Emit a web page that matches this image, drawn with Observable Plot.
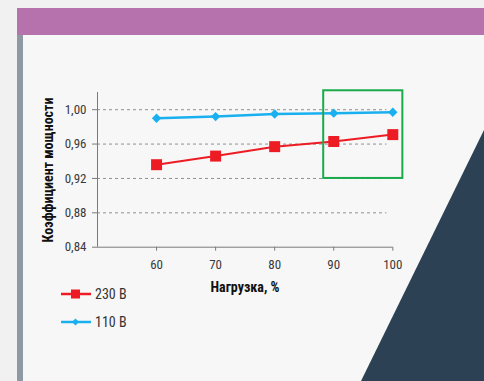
<!DOCTYPE html>
<html><head><meta charset="utf-8">
<script src="https://cdn.jsdelivr.net/npm/d3@7"></script>
<script src="https://cdn.jsdelivr.net/npm/@observablehq/plot@0.6"></script>
<style>
body{margin:0;background:#f2f1f1;}
#wrap{position:relative;width:484px;height:381px;overflow:hidden;font-family:"Liberation Sans Narrow","Roboto Condensed","DejaVu Sans Condensed",sans-serif;color:#333;}
.card{position:absolute;left:17px;top:8px;right:0;bottom:0;background:#f7f7f7;}
.band{position:absolute;left:17px;top:8px;right:0;height:27px;background:#b572ad;}
.bar{position:absolute;left:17px;top:35px;width:6px;bottom:0;background:#8e99a3;}
.tri{position:absolute;left:0;top:0;width:484px;height:381px;background:#2c4153;clip-path:polygon(484px 130px,484px 381px,361px 381px);}
#chart{position:absolute;left:0;top:0;}
#chart svg{background:transparent;overflow:visible;}
.ylab{position:absolute;left:48px;top:170px;transform:translate(-50%,-50%) rotate(-90deg);white-space:nowrap;font-weight:bold;font-size:14px;color:#111;}
.xlab{position:absolute;left:245px;top:287px;transform:translate(-50%,-50%);white-space:nowrap;font-weight:bold;font-size:14px;color:#111;}
.leg{position:absolute;left:61px;display:flex;align-items:center;font-size:14px;color:#333;}
.leg svg{margin-right:4px;}
</style></head><body>
<div id="wrap">
  <div class="card"></div><div class="band"></div><div class="bar"></div>
  <div id="chart"></div>
  <div class="tri"></div>
  <div class="ylab" id="ylab"></div>
  <div class="xlab" id="xlab"></div>
  <div id="legend"></div>
</div>
<script>
const loads = [60, 70, 80, 90, 100];
const pf230 = [0.936, 0.946, 0.957, 0.963, 0.971];
const pf110 = [0.990, 0.992, 0.995, 0.996, 0.997];
const seriesNames = ["230 В", "110 В"];
const seriesColors = ["#ed1c24", "#1ab0ef"];
const yTicks = [0.84, 0.88, 0.92, 0.96, 1.00];
const xTicks = [60, 70, 80, 90, 100];
const highlightLoad = [88.3, 101.7];
const highlightPf = [0.92, 1.022];
const yTitle = "Коэффициент мощности";
const xTitle = "Нагрузка, %";

const d230 = loads.map((x, i) => ({x, y: pf230[i]}));
const d110 = loads.map((x, i) => ({x, y: pf110[i]}));
const fmt = d => d.toFixed(2).replace(".", ",");
const axisColor = "#7a7a7a";
const font = "\"Liberation Sans Narrow\",\"Roboto Condensed\",\"DejaVu Sans Condensed\",sans-serif";

const chart = Plot.plot({
  width: 484, height: 381,
  marginLeft: 97, marginRight: 91.7, marginTop: 92, marginBottom: 134.3,
  style: {background: "transparent", fontFamily: font, fontSize: "13px", color: "#3a3a3a"},
  x: {domain: [50, 100]},
  y: {domain: [0.84, 1.02]},
  marks: [
    Plot.ruleY(yTicks.slice(1), {x1: 50, x2: 99, stroke: "#909090", strokeDasharray: "3,3", strokeWidth: 1}),
    Plot.ruleX([50], {y1: 0.84, y2: 1.02, stroke: axisColor}),
    Plot.ruleY([0.84], {x1: 50, x2: 100, stroke: axisColor}),
    Plot.axisY({ticks: yTicks, tickSize: 5, tickPadding: 6, tickFormat: fmt, label: null, stroke: axisColor}),
    Plot.axisX({ticks: xTicks, tickSize: 4, tickPadding: 9, label: null, stroke: axisColor}),
    Plot.line(d110, {x: "x", y: "y", stroke: seriesColors[1], strokeWidth: 2.5}),
    Plot.dot(d110, {x: "x", y: "y", symbol: "diamond2", r: 4.2, fill: seriesColors[1]}),
    Plot.line(d230, {x: "x", y: "y", stroke: seriesColors[0], strokeWidth: 2}),
    Plot.dot(d230, {x: "x", y: "y", symbol: "square", r: 6.2, fill: seriesColors[0]}),
    Plot.rect([0], {x1: highlightLoad[0], x2: highlightLoad[1], y1: highlightPf[0], y2: highlightPf[1], fill: "none", stroke: "#1aaa4b", strokeWidth: 2})
  ]
});
document.getElementById("chart").appendChild(chart);
document.getElementById("ylab").textContent = yTitle;
document.getElementById("xlab").textContent = xTitle;

const legend = document.getElementById("legend");
const legTops = [294, 322];
seriesNames.forEach((name, i) => {
  const row = document.createElement("div");
  row.className = "leg";
  row.style.top = (legTops[i] - 9) + "px";
  const marker = i === 0
    ? `<rect x="10" y="4.5" width="9" height="9" fill="${seriesColors[0]}"/>`
    : `<path d="M14.5 5.5 L18 9 L14.5 12.5 L11 9 Z" fill="${seriesColors[1]}"/>`;
  row.innerHTML = `<svg width="30" height="18"><line x1="0" x2="30" y1="9" y2="9" stroke="${seriesColors[i]}" stroke-width="2.5"/>${marker}</svg><span>${name}</span>`;
  legend.appendChild(row);
});
</script>
</body></html>
